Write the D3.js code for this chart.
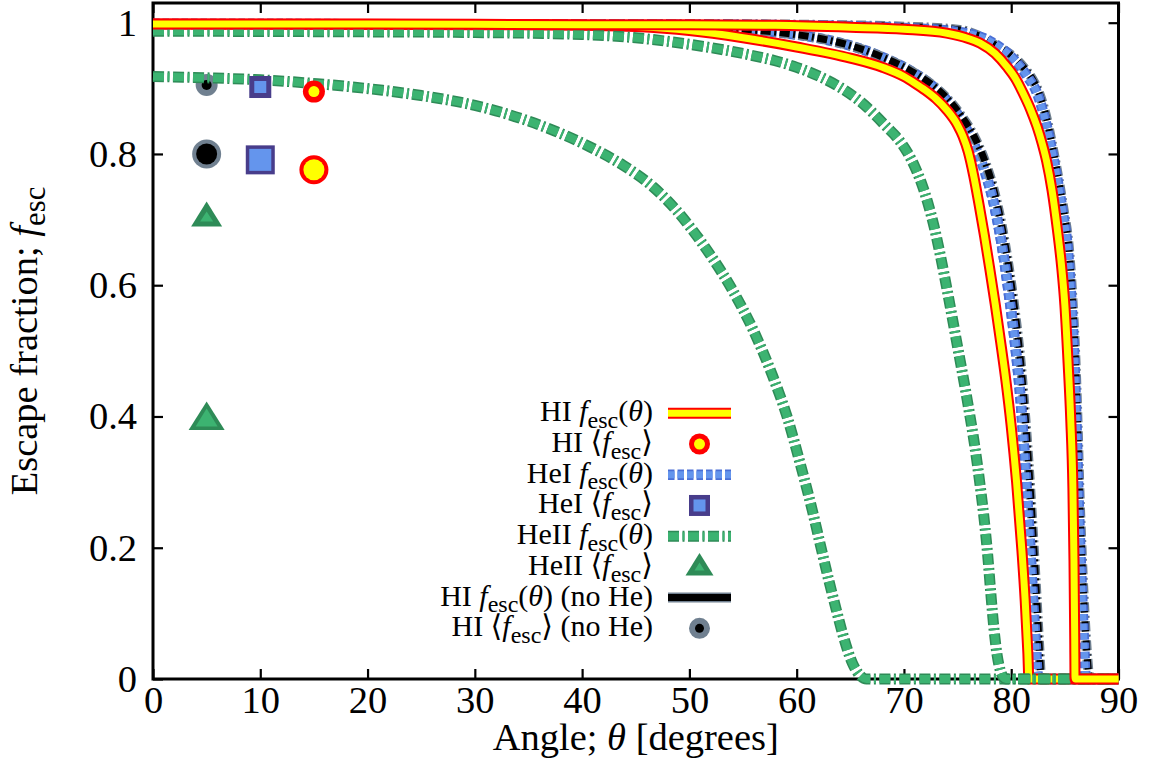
<!DOCTYPE html>
<html><head><meta charset="utf-8">
<script src="https://cdn.jsdelivr.net/npm/d3@7"></script>
<style>
body{margin:0;background:#fff}
svg text{font-family:"Liberation Serif","DejaVu Serif",serif;fill:#000}
</style>
</head><body>
<svg id="c" width="1153" height="761"></svg>
<script>
// ---------------- data ----------------
const xTicks=[0,10,20,30,40,50,60,70,80,90];
const xTickLabels=["0","10","20","30","40","50","60","70","80","90"];
const yTicks=[0,0.2,0.4,0.6,0.8,1];
const yTickLabels=["0","0.2","0.4","0.6","0.8","1"];

// [theta (deg), f_esc]
const hiA=[[0,0.998],[20,0.998],[40,0.997],[50,0.997],[58,0.996],[65,0.993],[70,0.990],[74,0.984],[76,0.976],[77.1,0.969],[78.5,0.953],[79.6,0.933],[80.4,0.915],[81.1,0.893],[81.8,0.868],[82.4,0.842],[82.9,0.815],[83.3,0.789],[83.8,0.745],[84.3,0.685],[84.7,0.628],[85.0,0.570],[85.3,0.482],[85.55,0.395],[85.75,0.29],[85.85,0.18],[85.92,0.06],[85.95,0],[90,0]];
const hiB=[[0,0.998],[30,0.997],[40,0.996],[45,0.994],[50,0.988],[55,0.977],[60,0.963],[65,0.946],[68,0.932],[70,0.918],[71,0.908],[72,0.897],[73,0.884],[74,0.867],[75,0.844],[75.5,0.827],[76,0.803],[76.5,0.767],[77,0.723],[77.5,0.676],[78,0.625],[78.5,0.572],[79,0.515],[79.5,0.455],[80,0.385],[80.5,0.300],[81,0.195],[81.3,0.120],[81.55,0.04],[81.65,0],[90,0]];
const heIA=[[0,0.998],[50,0.997],[60,0.996],[70,0.992],[75,0.986],[78,0.972],[80.2,0.945],[81.5,0.918],[82.4,0.893],[83.3,0.843],[83.9,0.797],[84.4,0.752],[84.8,0.712],[85.3,0.650],[85.6,0.578],[85.9,0.480],[86.1,0.380],[86.25,0.290],[86.4,0.215],[86.6,0.13],[86.8,0.05],[86.95,0],[90,0]];
const heIB=[[0,0.998],[40,0.997],[50,0.995],[55,0.990],[58.4,0.985],[61.5,0.978],[64.6,0.967],[67.8,0.949],[70.8,0.925],[72.4,0.907],[74,0.882],[75.3,0.853],[76.5,0.816],[77.5,0.775],[78.3,0.730],[79.1,0.664],[79.8,0.585],[80.4,0.505],[80.8,0.440],[81.1,0.375],[81.4,0.300],[81.7,0.220],[82.0,0.130],[82.3,0.048],[82.5,0],[90,0]];
const heIIA=[[0,0.987],[20,0.986],[30,0.985],[40,0.982],[45,0.977],[50,0.967],[55,0.953],[58,0.942],[60,0.932],[62,0.919],[64,0.902],[66,0.879],[68.4,0.841],[69.5,0.822],[70.3,0.803],[71,0.781],[71.6,0.757],[72.2,0.727],[72.8,0.690],[73.4,0.645],[74,0.595],[74.9,0.515],[75.9,0.425],[76.6,0.355],[77.1,0.295],[77.5,0.240],[77.8,0.190],[78.1,0.130],[78.4,0.075],[78.7,0.035],[79.0,0.012],[79.3,0.002],[79.5,0],[90,0]];
const heIIB=[[0,0.918],[5,0.916],[10,0.913],[15.3,0.907],[21.4,0.897],[25,0.889],[30,0.874],[34.5,0.853],[37.6,0.834],[40.7,0.811],[43.8,0.783],[46.6,0.750],[48.8,0.714],[50,0.690],[52,0.645],[54,0.593],[56,0.530],[57.8,0.460],[59.1,0.400],[60.3,0.330],[61.5,0.254],[62.2,0.205],[63.0,0.150],[63.7,0.105],[64.3,0.068],[65.2,0.024],[66.0,0.004],[66.5,0],[90,0]];
const noHeA=[[0,0.998],[50,0.998],[60,0.997],[70,0.994],[75.2,0.989],[77.1,0.979],[78.7,0.964],[80.2,0.948],[81.1,0.933],[82,0.913],[82.6,0.893],[83.4,0.847],[84,0.798],[84.5,0.753],[84.9,0.713],[85.4,0.652],[85.7,0.580],[86.0,0.480],[86.2,0.380],[86.35,0.290],[86.55,0.2],[86.8,0.11],[87.1,0.03],[87.3,0],[90,0]];
const noHeB=[[0,0.998],[40,0.997],[50,0.995],[55,0.990],[58.4,0.985],[61.5,0.978],[64.6,0.967],[67.8,0.949],[70.8,0.925],[72.4,0.908],[74,0.885],[75.3,0.859],[76.5,0.828],[77.5,0.791],[78.3,0.750],[79.1,0.692],[79.8,0.624],[80.4,0.552],[80.9,0.478],[81.3,0.400],[81.6,0.332],[82.0,0.228],[82.3,0.142],[82.6,0.052],[82.8,0],[90,0]];

// mean escape fractions [theta, <f_esc>] (two models)
const hiMean=[[15,0.895],[15,0.776]];
const heIMean=[[10,0.902],[10,0.791]];
const heIIMean=[[5,0.702],[5,0.394]];
const noHeMean=[[5,0.905],[5,0.800]];

const legendLabels=[
  [["HI ",""],["f","i"],["esc","sub"],["(",""],["θ","i"],[")",""]],
  [["HI ⟨",""],["f","i"],["esc","sub"],["⟩",""]],
  [["HeI ",""],["f","i"],["esc","sub"],["(",""],["θ","i"],[")",""]],
  [["HeI ⟨",""],["f","i"],["esc","sub"],["⟩",""]],
  [["HeII ",""],["f","i"],["esc","sub"],["(",""],["θ","i"],[")",""]],
  [["HeII ⟨",""],["f","i"],["esc","sub"],["⟩",""]],
  [["HI ",""],["f","i"],["esc","sub"],["(",""],["θ","i"],[") (no He)",""]],
  [["HI ⟨",""],["f","i"],["esc","sub"],["⟩ (no He)",""]]
];
const xLabel=[["Angle; ",""],["θ","i"],[" [degrees]",""]];
const yLabel=[["Escape fraction; ",""],["f","i"],["esc","sub"]];

// ---------------- drawing ----------------
const svg=d3.select("#c");
const x=d3.scaleLinear().domain([0,90]).range([153,1118.5]);
const y=d3.scaleLinear().domain([0,1.03]).range([679,3]);

function rich(textSel,segs,size){
  let sub=false;
  segs.forEach(([t,s])=>{
    const ts=textSel.append("tspan").text(t);
    if(s==="i") ts.attr("font-style","italic");
    if(s==="sub"){ts.attr("font-size",size*0.8).attr("dy",size*0.22);sub=true;}
    else if(sub){ts.attr("dy",-size*0.22);sub=false;}
  });
}

// axes with inward ticks
const fs=38.5;
const gx=svg.append("g").attr("transform",`translate(0,${y(0)})`)
  .call(d3.axisBottom(x).tickValues(xTicks).tickFormat((d,i)=>xTickLabels[i]).tickSizeInner(-10).tickSizeOuter(0).tickPadding(7));
const gy=svg.append("g").attr("transform",`translate(${x(0)},0)`)
  .call(d3.axisLeft(y).tickValues(yTicks).tickFormat((d,i)=>yTickLabels[i]).tickSizeInner(-10).tickSizeOuter(0).tickPadding(16));
const gt=svg.append("g").attr("transform",`translate(0,${y.range()[1]})`)
  .call(d3.axisTop(x).tickValues(xTicks).tickFormat("").tickSizeInner(-10).tickSizeOuter(0));
const gr=svg.append("g").attr("transform",`translate(${x.range()[1]},0)`)
  .call(d3.axisRight(y).tickValues(yTicks).tickFormat("").tickSizeInner(-10).tickSizeOuter(0));
[gx,gy,gt,gr].forEach(g=>{
  g.attr("font-size",fs).attr("font-family",null);
  g.select(".domain").remove();
  g.selectAll(".tick line").attr("stroke","#000").attr("stroke-width",2.2);
});
svg.append("rect").attr("x",x(0)).attr("y",y.range()[1]).attr("width",x(90)-x(0)).attr("height",y(0)-y.range()[1])
  .attr("fill","none").attr("stroke","#000").attr("stroke-width",3);

// clip for the lower part of the inner HeI curve (drawn above the no-He curve there)
svg.append("defs").append("clipPath").attr("id","lowerClip").append("rect")
  .attr("x",x(74)).attr("y",y(0.76)).attr("width",x(90)-x(74)).attr("height",y(0)-y(0.76)+10);

const line=d3.line().x(d=>x(d[0])).y(d=>y(d[1])).curve(d3.curveMonotoneX);
function drawLine(g,data,outer,inner,wo,wi,dash){
  g.append("path").attr("d",line(data)).attr("fill","none").attr("stroke",outer).attr("stroke-width",wo)
    .attr("stroke-dasharray",dash||null).attr("stroke-linejoin","round");
  g.append("path").attr("d",line(data)).attr("fill","none").attr("stroke",inner).attr("stroke-width",wi)
    .attr("stroke-dasharray",dash||null).attr("stroke-linejoin","round");
}
const styles={
  hi:["#ff0000","#ffff00",11,7,null],
  heI:["#4a6fd6","#6495ED",10.5,7,"6.5,3"],
  heII:["#2E8B57","#3CB371",11,8,"11,3.5,2,3.5"],
  noHe:["#708090","#000000",10,7,"10,3.5,2,3.5"]
};
function grayCircle(g,cx,cy,ro,ri){
  g.append("circle").attr("cx",cx).attr("cy",cy).attr("r",ro).attr("fill","#708090");
  g.append("circle").attr("cx",cx).attr("cy",cy).attr("r",ri).attr("fill","#000");
}
function redCircle(g,cx,cy,ro,ri){
  g.append("circle").attr("cx",cx).attr("cy",cy).attr("r",ro).attr("fill","#ff0000");
  g.append("circle").attr("cx",cx).attr("cy",cy).attr("r",ri).attr("fill","#ffff00");
}
function blueSquare(g,cx,cy,so,si){
  g.append("rect").attr("x",cx-so/2).attr("y",cy-so/2).attr("width",so).attr("height",so).attr("fill","#483D8B");
  g.append("rect").attr("x",cx-si/2).attr("y",cy-si/2).attr("width",si).attr("height",si).attr("fill","#6495ED");
}
function tri(g,cx,cy,w,h,fill){
  g.append("path").attr("d",`M${cx},${cy-2*h/3}L${cx+w/2},${cy+h/3}L${cx-w/2},${cy+h/3}Z`).attr("fill",fill);
}
function greenTri(g,cx,cy,wo,ho,wi,hi){
  tri(g,cx,cy,wo,ho,"#2E8B57");tri(g,cx,cy,wi,hi,"#3CB371");
}

// layering
const gL1=svg.append("g");
drawLine(gL1,heIB,...styles.heI);
drawLine(gL1,noHeB,...styles.noHe);
const gClip=svg.append("g").attr("clip-path","url(#lowerClip)");
drawLine(gClip,heIB,...styles.heI);
drawLine(gL1,noHeA,...styles.noHe);
const gGray=svg.append("g");
const graySizes=[[11,5],[14.5,10.5]];
noHeMean.forEach((d,i)=>grayCircle(gGray,x(d[0]),y(d[1]),...graySizes[i]));
const gL2=svg.append("g");
drawLine(gL2,heIA,...styles.heI);
drawLine(gL2,hiB,...styles.hi);
drawLine(gL2,heIIB,...styles.heII);
drawLine(gL2,heIIA,...styles.heII);
drawLine(gL2,hiA,...styles.hi);

const gM=svg.append("g");
const sqSizes=[[22,12],[29,22]];
heIMean.forEach((d,i)=>blueSquare(gM,x(d[0]),y(d[1]),...sqSizes[i]));
const redSizes=[[11,5.5],[14.5,10.5]];
hiMean.forEach((d,i)=>redCircle(gM,x(d[0]),y(d[1]),...redSizes[i]));
const triSizes=[[31,25,13,10],[36,28.5,22,18]];
heIIMean.forEach((d,i)=>greenTri(gM,x(d[0]),y(d[1]),...triSizes[i]));

// legend
const lg=svg.append("g");
const lfs=30;
const rowY=i=>413.3+i*30.72;
legendLabels.forEach((segs,i)=>{
  const t=lg.append("text").attr("x",653).attr("y",rowY(i)+8).attr("text-anchor","end").attr("font-size",lfs);
  rich(t,segs,lfs);
});
const sx0=668,sx1=731,mx=699.5;
function sample(i,st){
  const [o,inn,wo,wi,dash]=st;
  lg.append("line").attr("x1",sx0).attr("x2",sx1).attr("y1",rowY(i)).attr("y2",rowY(i)).attr("stroke",o).attr("stroke-width",wo).attr("stroke-dasharray",dash||null);
  lg.append("line").attr("x1",sx0).attr("x2",sx1).attr("y1",rowY(i)).attr("y2",rowY(i)).attr("stroke",inn).attr("stroke-width",wi).attr("stroke-dasharray",dash||null);
}
sample(0,styles.hi);
redCircle(lg,mx,rowY(1),10.5,5.5);
sample(2,styles.heI);
blueSquare(lg,mx,rowY(3),21,12);
sample(4,styles.heII);
greenTri(lg,mx,rowY(5)+1,28,22.5,10,8);
sample(6,["#708090","#000",10,7,null]);
grayCircle(lg,mx,rowY(7),10.5,4.5);

// axis titles
const xt=svg.append("text").attr("x",(x(0)+x(90))/2).attr("y",750).attr("text-anchor","middle").attr("font-size",fs);
rich(xt,xLabel,fs);
const yt=svg.append("text").attr("transform",`translate(37,${(y(0)+y.range()[1])/2}) rotate(-90)`).attr("text-anchor","middle").attr("font-size",fs);
rich(yt,yLabel,fs);
</script>
</body></html>
